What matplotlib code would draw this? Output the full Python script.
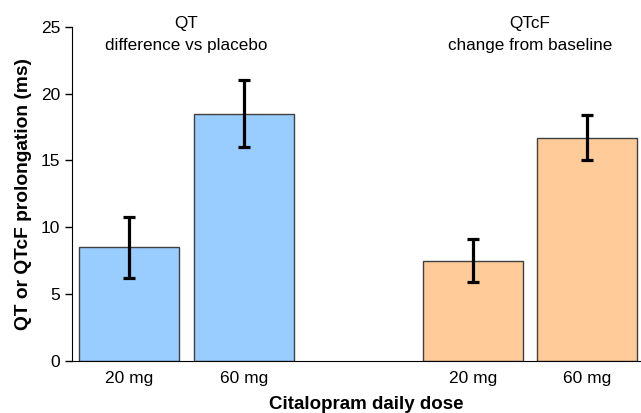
import matplotlib
matplotlib.use("Agg")
from matplotlib import pyplot as plt

# bar data
doses = ["20 mg", "60 mg", "20 mg", "60 mg"]
positions = [0, 1, 3, 4]
means = [8.5, 18.5, 7.5, 16.7]
lower = [6.2, 16.0, 5.9, 15.0]
upper = [10.8, 21.0, 9.1, 18.4]
colors = ["#99ccff", "#99ccff", "#ffcc99", "#ffcc99"]

plt.rcParams["font.family"] = ["Liberation Sans", "DejaVu Sans"]

fig = plt.figure(figsize=(6.41, 4.13), dpi=100)
ax = fig.add_axes([0.1123, 0.1259, 0.8877, 0.8095])

yerr = [[m - l for m, l in zip(means, lower)], [u - m for m, u in zip(means, upper)]]
ax.bar(positions, means, width=0.87, color=colors, edgecolor="#404040", linewidth=1.0)
ax.errorbar(positions, means, yerr=yerr, fmt="none", ecolor="black",
            elinewidth=2.3, capsize=4, capthick=2.3)

ax.set_xlim(-0.5, 4.47)
ax.set_ylim(0, 25)
ax.set_yticks([0, 5, 10, 15, 20, 25])
ax.set_xticks(positions)
ax.set_xticklabels(doses, fontsize=12.5)
ax.tick_params(axis="y", labelsize=12.5, length=5, width=1, direction="out")
ax.tick_params(axis="x", length=0, pad=7)
for s in ["top", "right"]:
    ax.spines[s].set_visible(False)

ax.text(0.5, 25.8, "QT\ndifference vs placebo", ha="center", va="top",
        fontsize=12.3, linespacing=1.55)
ax.text(3.5, 25.8, "QTcF\nchange from baseline", ha="center", va="top",
        fontsize=12.3, linespacing=1.55)

ax.set_ylabel("QT or QTcF prolongation (ms)", fontsize=13.8, fontweight="bold", labelpad=6)
ax.set_xlabel("Citalopram daily dose", fontsize=13.5, fontweight="bold", labelpad=5)
ax.xaxis.set_label_coords(0.517, -0.105)

fig.savefig("out.png", dpi=100)
